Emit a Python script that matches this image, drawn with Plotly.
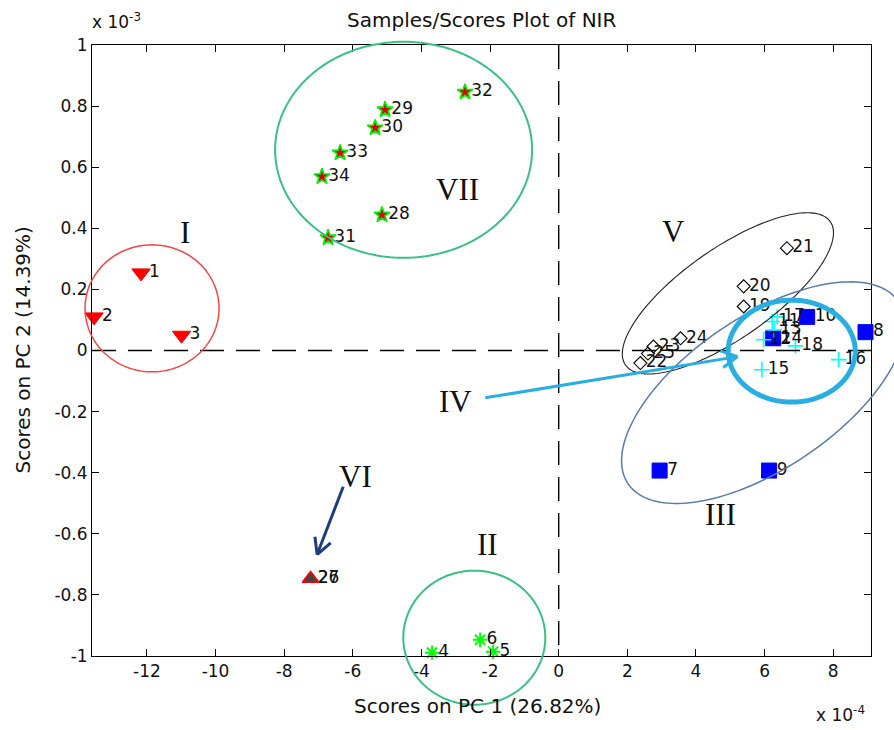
import numpy as np
import plotly.graph_objects as go

# ---------------- data (x in units of 1e-4, y in units of 1e-3) ----------------
g1_id = ["1", "2", "3"]
g1_x = [-12.17, -13.54, -10.99]
g1_y = [0.254, 0.11, 0.05]

g2_id = ["4", "5", "6"]
g2_x = [-3.69, -1.91, -2.29]
g2_y = [-0.989, -0.986, -0.947]

g3_id = ["7", "8", "9", "10", "14"]
g3_x = [2.94, 8.94, 6.13, 7.24, 6.25]
g3_y = [-0.393, 0.06, -0.393, 0.11, 0.04]

g4_id = ["11", "12", "13", "15", "16", "17", "18"]
g4_x = [6.22, 5.97, 6.28, 5.92, 8.16, 6.37, 6.9]
g4_y = [0.095, 0.035, 0.067, -0.063, -0.03, 0.11, 0.015]

g5_id = ["19", "20", "21", "22", "23", "24", "25"]
g5_x = [5.39, 5.39, 6.65, 2.38, 2.76, 3.55, 2.6]
g5_y = [0.144, 0.21, 0.335, -0.041, 0.013, 0.04, -0.01]

g6_id = ["26", "27"]
g6_x = [-7.23, -7.23]
g6_y = [-0.747, -0.747]

g7_id = ["28", "29", "30", "31", "32", "33", "34"]
g7_x = [-5.15, -5.06, -5.35, -6.72, -2.73, -6.37, -6.9]
g7_y = [0.444, 0.788, 0.729, 0.369, 0.846, 0.647, 0.569]

x_ticks = [-12, -10, -8, -6, -4, -2, 0, 2, 4, 6, 8]
y_ticks = [-1, -0.8, -0.6, -0.4, -0.2, 0, 0.2, 0.4, 0.6, 0.8, 1]
y_ticktext = ["-1", "-0.8", "-0.6", "-0.4", "-0.2", "0", "0.2", "0.4", "0.6", "0.8", "1"]

XR = [-13.6, 9.1]
YR = [-1.0, 1.0]

# ---------------- layout geometry ----------------
FW, FH = 894, 730
ML, MR, MT, MB = 92, 23, 45, 74
W = FW - ML - MR
H = FH - MT - MB

FONT = "DejaVu Sans"


def d2p(x, y):
    return (x - XR[0]) / (XR[1] - XR[0]) * W, (YR[1] - y) / (YR[1] - YR[0]) * H


def p2d(px, py):
    return XR[0] + px / W * (XR[1] - XR[0]), YR[1] - py / H * (YR[1] - YR[0])


def ellipse_path(cx, cy, a, b, ang):
    pcx, pcy = d2p(cx, cy)
    t = np.linspace(0, 2 * np.pi, 181)
    th = np.radians(ang)
    ex, ey = a * np.cos(t), b * np.sin(t)
    px = pcx + ex * np.cos(th) - ey * np.sin(th)
    py = pcy - (ex * np.sin(th) + ey * np.cos(th))
    u, v = px / W, 1 - py / H
    return "M" + " L".join(f"{p:.5f},{q:.5f}" for p, q in zip(u, v)) + " Z"


fig = go.Figure()

# ---------------- markers ----------------
fig.add_trace(go.Scatter(x=g1_x, y=g1_y, mode="markers", cliponaxis=False,
                         marker=dict(symbol="triangle-down", size=16, color="#ff0000",
                                     line=dict(color="#ff0000", width=1))))
fig.add_trace(go.Scatter(x=g2_x, y=g2_y, mode="markers", cliponaxis=False,
                         marker=dict(symbol="asterisk-open", size=12, color="#00ff00",
                                     line=dict(color="#00ff00", width=2))))
fig.add_trace(go.Scatter(x=g3_x, y=g3_y, mode="markers", cliponaxis=False,
                         marker=dict(symbol="square", size=15, color="#0000ff",
                                     line=dict(color="#0000ff", width=1))))
fig.add_trace(go.Scatter(x=g4_x, y=g4_y, mode="markers", cliponaxis=False,
                         marker=dict(symbol="cross-thin-open", size=11, color="#00ffff",
                                     line=dict(color="#00ffff", width=1.6))))
fig.add_trace(go.Scatter(x=g5_x, y=g5_y, mode="markers", cliponaxis=False,
                         marker=dict(symbol="diamond-open", size=10, color="#000000",
                                     line=dict(color="#000000", width=1.1))))
fig.add_trace(go.Scatter(x=g6_x, y=g6_y, mode="markers", cliponaxis=False,
                         marker=dict(symbol="triangle-up", size=14, color="#444444",
                                     line=dict(color="#ff0000", width=1.5))))
fig.add_trace(go.Scatter(x=g7_x, y=g7_y, mode="markers", cliponaxis=False,
                         marker=dict(symbol="star", size=12, color="#dd0000",
                                     line=dict(color="#00ee00", width=1.6))))

# ---------------- point labels (on top) ----------------
for gx, gy, gid, sz in [(g1_x, g1_y, g1_id, 16), (g2_x, g2_y, g2_id, 12),
                        (g3_x, g3_y, g3_id, 15), (g4_x, g4_y, g4_id, 11),
                        (g5_x, g5_y, g5_id, 10), (g6_x, g6_y, g6_id, 14),
                        (g7_x, g7_y, g7_id, 12)]:
    fig.add_trace(go.Scatter(x=gx, y=gy, text=gid, mode="markers+text",
                             textposition="middle right",
                             textfont=dict(family=FONT, size=17, color="#111111"),
                             marker=dict(size=sz * 0.7, color="rgba(0,0,0,0)"),
                             cliponaxis=False))

shapes = []

# zero lines
shapes.append(dict(type="line", xref="x", yref="y", x0=XR[0], x1=XR[1], y0=0, y1=0,
                   line=dict(color="#000000", width=1.4, dash="24px,12px")))
shapes.append(dict(type="line", xref="x", yref="y", x0=0, x1=0, y0=YR[1], y1=YR[0],
                   line=dict(color="#000000", width=1.4, dash="24px,12px")))

# group ellipses (center in data units, semi-axes in px, angle deg)
ellipses = [
    (-11.85, 0.138, 67, 63.5, 0, "#f04848", 1.5),
    (-4.52, 0.657, 128.5, 108, 0, "#3cbf84", 2),
    (-2.46, -0.94, 71, 67, 0, "#3cbf84", 2),
    (4.93, 0.187, 125, 45, 35, "#222222", 1.1),
    (5.96, -0.138, 163, 76, 34, "#5a7ca6", 1.5),
    (6.79, -0.002, 63.5, 51, 0, "#2aaee2", 5),
]
for cx, cy, a, b, ang, col, lw in ellipses:
    shapes.append(dict(type="path", xref="paper", yref="paper",
                       path=ellipse_path(cx, cy, a, b, ang),
                       line=dict(color=col, width=lw)))


def arrow(x0, y0, x1, y1, col, lw, wl=18, wa=28):
    p0 = d2p(x0, y0)
    p1 = d2p(x1, y1)
    ang = np.arctan2(p1[1] - p0[1], p1[0] - p0[0])
    out = [dict(type="line", xref="x", yref="y", x0=x0, y0=y0, x1=x1, y1=y1,
                line=dict(color=col, width=lw))]
    for s in (-1, 1):
        aa = ang + np.pi + s * np.radians(wa)
        wx, wy = p2d(p1[0] + wl * np.cos(aa), p1[1] + wl * np.sin(aa))
        out.append(dict(type="line", xref="x", yref="y", x0=x1, y0=y1, x1=wx, y1=wy,
                        line=dict(color=col, width=lw)))
    return out


shapes += arrow(-2.14, -0.155, 5.21, -0.02, "#2aaee2", 3)
shapes += arrow(-6.28, -0.446, -7.04, -0.668, "#1f3d7a", 3)

# ---------------- annotations ----------------
ann = []
romans = [("I", -10.89, 0.385), ("II", -2.08, -0.636), ("III", 4.71, -0.538),
          ("IV", -3.02, -0.167), ("V", 3.34, 0.389), ("VI", -5.93, -0.413),
          ("VII", -2.96, 0.526)]
for t, x, y in romans:
    ann.append(dict(text=t, x=x, y=y, xref="x", yref="y", showarrow=False,
                    font=dict(family="Liberation Serif", size=31, color="#111111")))

ann.append(dict(text="Samples/Scores Plot of NIR", x=0.5, y=1, xref="paper", yref="paper",
                xanchor="center", yanchor="middle",
                yshift=25, showarrow=False, font=dict(family=FONT, size=20, color="#111111")))
ann.append(dict(text="Scores on PC 1 (26.82%)", x=0.5, y=0, xref="paper", yref="paper",
                xanchor="center", yanchor="middle",
                yshift=-50, xshift=-4, showarrow=False,
                font=dict(family=FONT, size=20, color="#111111")))
ann.append(dict(text="Scores on PC 2 (14.39%)", x=0, y=0.5, xref="paper", yref="paper",
                xanchor="center", yanchor="middle",
                xshift=-70, textangle=-90, showarrow=False,
                font=dict(family=FONT, size=20, color="#111111")))
ann.append(dict(text="x 10<sup>-3</sup>", x=0, y=1, xref="paper", yref="paper",
                xanchor="left", yanchor="middle", yshift=24, xshift=-2, showarrow=False,
                font=dict(family=FONT, size=17, color="#111111")))
ann.append(dict(text="x 10<sup>-4</sup>", x=1, y=0, xref="paper", yref="paper",
                xanchor="right", yanchor="middle", yshift=-58, xshift=-4, showarrow=False,
                font=dict(family=FONT, size=17, color="#111111")))

fig.update_layout(
    width=FW, height=FH,
    margin=dict(l=ML, r=MR, t=MT, b=MB, pad=0),
    paper_bgcolor="white", plot_bgcolor="white",
    showlegend=False,
    shapes=shapes, annotations=ann,
    font=dict(family=FONT, size=17, color="#111111"),
)
fig.update_xaxes(range=XR, tickvals=x_ticks, ticktext=[str(v) for v in x_ticks],
                 ticks="inside", ticklen=7, tickcolor="black", showgrid=False,
                 zeroline=False, showline=True, linecolor="black", linewidth=1,
                 mirror="ticks", tickfont=dict(family=FONT, size=17, color="#111111"))
fig.update_yaxes(range=YR, tickvals=y_ticks, ticktext=y_ticktext,
                 ticks="inside", ticklen=7, tickcolor="black", showgrid=False,
                 zeroline=False, showline=True, linecolor="black", linewidth=1,
                 mirror="ticks", tickfont=dict(family=FONT, size=17, color="#111111"))

fig.write_html("out.html")
